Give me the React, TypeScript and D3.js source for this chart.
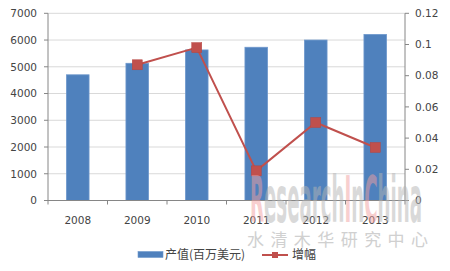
import React from "react";
import * as d3 from "d3";

const years = ["2008", "2009", "2010", "2011", "2012", "2013"];
const outputValues = [4700, 5130, 5630, 5730, 6000, 6210];
const growthYears = ["2009", "2010", "2011", "2012", "2013"];
const growthValues = [0.087, 0.098, 0.019, 0.05, 0.034];
const leftTicks = [0, 1000, 2000, 3000, 4000, 5000, 6000, 7000];
const rightTicks = [0, 0.02, 0.04, 0.06, 0.08, 0.1, 0.12];
const seriesNames = ["产值(百万美元)", "增幅"];

const W = 450, H = 271;
const M = { left: 48, right: 45, top: 13.3, bottom: 70.5 };

export default function App() {
  const x = d3.scaleBand<string>().domain(years).range([M.left, W - M.right]).paddingInner(0.62).paddingOuter(0.31);
  const xb = d3.scaleBand<string>().domain(years).range([M.left, W - M.right]);
  const yL = d3.scaleLinear().domain([0, 7000]).range([H - M.bottom, M.top]);
  const yR = d3.scaleLinear().domain([0, 0.12]).range([H - M.bottom, M.top]);
  const line = d3.line<number>().x((_, i) => (xb(growthYears[i]) as number) + xb.bandwidth() / 2).y((d) => yR(d));
  const font = "'DejaVu Sans', sans-serif";
  const cjk = "'Noto Sans CJK SC', sans-serif";
  const axisColor = "#868686";
  const textColor = "#444444";
  const blue = "#4F81BD";
  const red = "#C0504D";
  const x0 = M.left, x1 = W - M.right, yb = H - M.bottom;
  return (
    <svg width={W} height={H} style={{ position: "absolute", left: 0, top: 0 }} fontFamily={font}>
      <rect width={W} height={H} fill="#fff" />
      {leftTicks.map((t) => (
        <g key={t}>
          {t > 0 && <line x1={x0} x2={x1} y1={yL(t)} y2={yL(t)} stroke="#D9D9D9" strokeWidth={1} />}
          <line x1={x0 - 4} x2={x0} y1={yL(t)} y2={yL(t)} stroke={axisColor} />
          <text x={x0 - 11} y={yL(t)} dy="0.36em" textAnchor="end" fontSize={10.5} fill={textColor}>{t}</text>
        </g>
      ))}
      {rightTicks.map((t) => (
        <g key={t}>
          <line x1={x1} x2={x1 + 4} y1={yR(t)} y2={yR(t)} stroke={axisColor} />
          <text x={x1 + 10} y={yR(t)} dy="0.36em" textAnchor="start" fontSize={10.5} fill={textColor}>{t}</text>
        </g>
      ))}
      {outputValues.map((v, i) => (
        <rect key={i} x={x(years[i])} y={yL(v)} width={x.bandwidth()} height={yb - yL(v)} fill={blue} stroke="#6E98CC" strokeWidth={0.8} />
      ))}
      <line x1={x0} x2={x0} y1={M.top} y2={yb} stroke={axisColor} />
      <line x1={x1} x2={x1} y1={M.top} y2={yb} stroke={axisColor} />
      <line x1={x0} x2={x1} y1={yb} y2={yb} stroke={axisColor} />
      {years.concat(["end"]).map((_, i) => {
        const xx = x0 + i * xb.bandwidth();
        return <line key={i} x1={xx} x2={xx} y1={yb} y2={yb + 4} stroke={axisColor} />;
      })}
      {years.map((yv) => (
        <text key={yv} x={(xb(yv) as number) + xb.bandwidth() / 2} y={yb + 20} dy="0.36em" textAnchor="middle" fontSize={10.5} fill={textColor}>{yv}</text>
      ))}
      <path d={line(growthValues) || ""} fill="none" stroke={red} strokeWidth={2} />
      {growthValues.map((v, i) => {
        const cx = (xb(growthYears[i]) as number) + xb.bandwidth() / 2;
        return <rect key={i} x={cx - 5} y={yR(v) - 5} width={10} height={10} fill={red} stroke="#B64541" strokeWidth={0.5} />;
      })}
      {/* legend */}
      <rect x={138} y={251.5} width={25} height={6} fill={blue} stroke="#6E98CC" strokeWidth={0.6} />
      <text x={165} y={255} dy="0.36em" fontSize={12} fill={textColor} fontFamily={cjk}>{seriesNames[0]}</text>
      <line x1={262} x2={288} y1={255} y2={255} stroke={red} strokeWidth={2} />
      <rect x={272} y={252} width={6} height={6} fill={red} />
      <text x={292} y={255} dy="0.36em" fontSize={12} fill={textColor} fontFamily={cjk}>{seriesNames[1]}</text>
      {/* watermark */}
      <g opacity={0.5}>
        <text x={250} y={222} fontSize={64} fontWeight="bold" fontFamily="'DejaVu Sans Condensed', 'DejaVu Sans', sans-serif" textLength={172} lengthAdjust="spacingAndGlyphs" fill="#B5B5B5">
          <tspan fill="#F2A0A0">R</tspan>esearch<tspan fill="#F2A0A0">I</tspan>n<tspan fill="#F2A0A0">C</tspan>hina
        </text>
      </g>
      <text x={247} y={246} fontSize={17} fontFamily={cjk} textLength={181} lengthAdjust="spacing" fill="#C8C8C8" opacity={0.85}>水清木华研究中心</text>
    </svg>
  );
}
